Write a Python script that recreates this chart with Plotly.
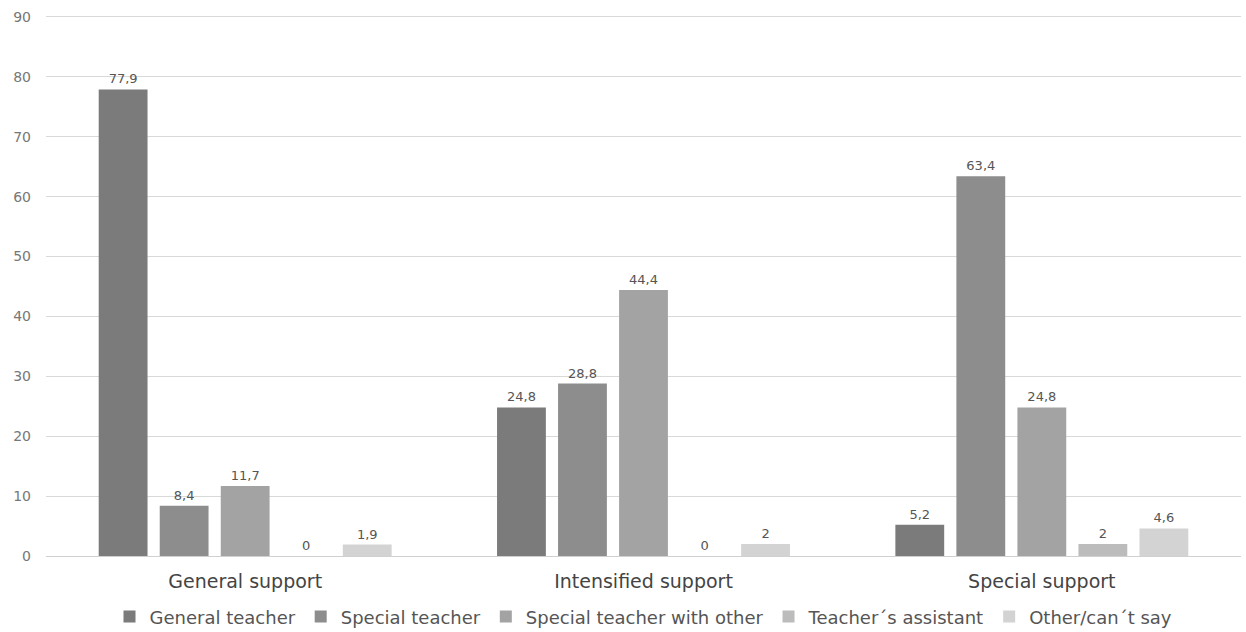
import plotly.graph_objects as go

categories = ["General support", "Intensified support", "Special support"]
series_names = ["General teacher", "Special teacher", "Special teacher with other",
                "Teacher\u00b4s assistant", "Other/can\u00b4t say"]
general_teacher = [77.9, 24.8, 5.2]
special_teacher = [8.4, 28.8, 63.4]
special_with_other = [11.7, 44.4, 24.8]
teachers_assistant = [0, 0, 2]
other_cant_say = [1.9, 2, 4.6]
y_ticks = [0, 10, 20, 30, 40, 50, 60, 70, 80, 90]

series_values = [general_teacher, special_teacher, special_with_other,
                 teachers_assistant, other_cant_say]
colors = ["#7b7b7b", "#8d8d8d", "#a3a3a3", "#bcbcbc", "#d3d3d3"]

FONT = "DejaVu Sans, Liberation Sans, Arial, sans-serif"


def fmt(v):
    return ("%g" % v).replace(".", ",")


fig = go.Figure()
for name, vals, col in zip(series_names, series_values, colors):
    fig.add_trace(go.Bar(
        x=categories, y=vals, name=name,
        marker=dict(color=col, line=dict(width=0)),
        text=[fmt(v) for v in vals], textposition="outside",
        textfont=dict(family=FONT, size=13, color="#555555"),
        cliponaxis=False,
    ))

fig.update_layout(
    width=1246, height=632,
    margin=dict(l=46, r=5, t=14, b=76),
    paper_bgcolor="white", plot_bgcolor="white",
    barmode="group", bargap=0.234, bargroupgap=0.2,
    showlegend=True,
    legend=dict(orientation="h", x=0.5, xanchor="center",
                yref="container", y=0.024, yanchor="middle",
                font=dict(family=FONT, size=18, color="#555555"),
                itemwidth=30, tracegroupgap=0),
    xaxis=dict(showline=False, ticks="", showgrid=False, ticklabelstandoff=12,
               tickfont=dict(family=FONT, size=19, color="#444444")),
    yaxis=dict(range=[0, 90.5], tickvals=y_ticks, showgrid=True, gridcolor="#d9d9d9",
               gridwidth=1, zeroline=True, zerolinecolor="#d0d0d0", zerolinewidth=1,
               ticks="", ticklabelstandoff=14,
               tickfont=dict(family=FONT, size=14, color="#777777")),
)

fig.write_html("out.html")
